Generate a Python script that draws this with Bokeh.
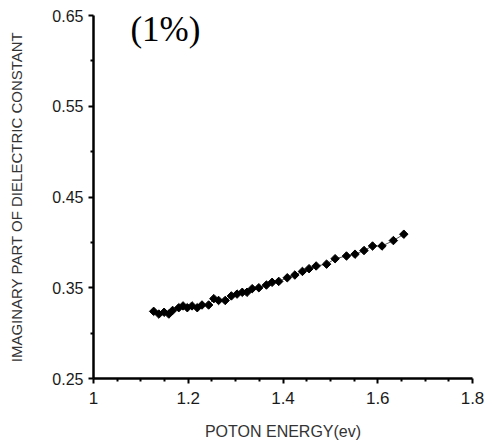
import numpy as np
from bokeh.plotting import figure
from bokeh.models import FixedTicker, Label, Range1d
from bokeh.embed import file_html
from bokeh.resources import INLINE

# Data
photon_energy = [1.127, 1.138, 1.149, 1.159, 1.167, 1.180, 1.189, 1.198, 1.208, 1.219,
                 1.229, 1.243, 1.254, 1.264, 1.278, 1.291, 1.303, 1.314, 1.324, 1.335,
                 1.349, 1.365, 1.377, 1.391, 1.409, 1.425, 1.441, 1.455, 1.470, 1.492,
                 1.510, 1.534, 1.552, 1.571, 1.589, 1.609, 1.633, 1.655]
imag_eps = [0.324, 0.321, 0.323, 0.321, 0.325, 0.328, 0.330, 0.328, 0.330, 0.328,
            0.331, 0.331, 0.338, 0.336, 0.336, 0.341, 0.343, 0.345, 0.345, 0.349,
            0.350, 0.353, 0.356, 0.357, 0.361, 0.364, 0.368, 0.371, 0.374, 0.376,
            0.382, 0.385, 0.387, 0.391, 0.396, 0.396, 0.402, 0.409]

x_ticks = [1.0, 1.2, 1.4, 1.6, 1.8]
x_tick_labels = ["1", "1.2", "1.4", "1.6", "1.8"]
x_minor = [1.05, 1.1, 1.15, 1.25, 1.3, 1.35, 1.45, 1.5, 1.55, 1.65, 1.7, 1.75]
y_ticks = [0.25, 0.35, 0.45, 0.55, 0.65]
y_tick_labels = ["0.25", "0.35", "0.45", "0.55", "0.65"]
y_minor = [0.30, 0.40, 0.50, 0.60]
title_text = "(1%)"
x_label = "POTON ENERGY(ev)"
y_label = "IMAGINARY PART OF DIELECTRIC CONSTANT"

p = figure(width=492, height=445, output_backend="svg", toolbar_location=None,
           x_range=Range1d(1.0, 1.8), y_range=Range1d(0.25, 0.65),
           min_border_left=93, min_border_right=20, min_border_top=15, min_border_bottom=67)
p.outline_line_color = None
p.xgrid.visible = False
p.ygrid.visible = False
p.background_fill_color = "white"
p.border_fill_color = "white"

p.line(photon_energy, imag_eps, line_color="#555555", line_width=1)
p.scatter(photon_energy, imag_eps, marker="square", angle=np.pi / 4, size=6,
          fill_color="black", line_color="black")

for ax, ticks, minor, labels in [(p.xaxis[0], x_ticks, x_minor, x_tick_labels),
                                 (p.yaxis[0], y_ticks, y_minor, y_tick_labels)]:
    ax.ticker = FixedTicker(ticks=ticks, minor_ticks=minor)
    ax.major_label_overrides = {t: l for t, l in zip(ticks, labels)}
    ax.axis_line_width = 2.5
    ax.axis_line_color = "black"
    ax.major_tick_line_width = 2
    ax.major_tick_line_color = "black"
    ax.minor_tick_line_width = 2
    ax.minor_tick_line_color = "black"
    ax.major_tick_in = 0
    ax.major_tick_out = 5
    ax.minor_tick_in = 0
    ax.minor_tick_out = 3
    ax.major_label_text_font = "Liberation Sans"
    ax.major_label_text_color = "#1a1a1a"
    ax.axis_label_text_font = "Liberation Sans"
    ax.axis_label_text_font_style = "normal"
    ax.axis_label_text_color = "#333333"

p.xaxis.axis_label = x_label
p.xaxis.axis_label_text_font_size = "16px"
p.xaxis.major_label_text_font_size = "17px"
p.xaxis.major_label_standoff = 8
p.xaxis.axis_label_standoff = 16
p.yaxis.axis_label = y_label
p.yaxis.axis_label_text_font_size = "15px"
p.yaxis.major_label_text_font_size = "16px"
p.yaxis.major_label_standoff = 5
p.yaxis.axis_label_standoff = 24

p.add_layout(Label(x=1.078, y=0.6345, text=title_text, text_font="Liberation Serif",
                   text_font_size="35px", text_baseline="middle", text_color="black"))

open("out.html", "w").write(file_html(p, INLINE))
